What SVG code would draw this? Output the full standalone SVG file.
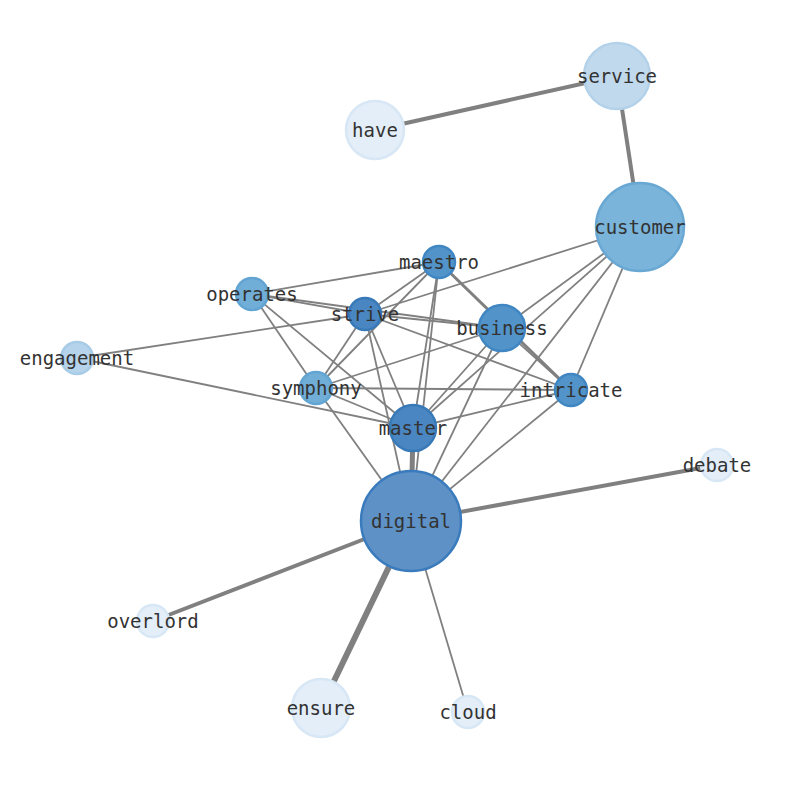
<svg xmlns="http://www.w3.org/2000/svg" width="794" height="790" viewBox="0 0 794 790">
<style>
.e{stroke:#808080;stroke-width:1.8;fill:none}
.t{stroke:#808080;stroke-width:4;fill:none}
.n circle{stroke-width:2.5}
text{font-family:"DejaVu Sans Mono",monospace;font-size:19px;fill:#333;text-anchor:middle;dominant-baseline:central}
</style>
<rect width="794" height="790" fill="#fff"/>
<g id="edges">
<line class="t" x1="375" y1="130" x2="617" y2="76"/>
<line class="t" x1="617" y1="76" x2="640" y2="227"/>
<line class="t" x1="411" y1="521" x2="717" y2="465"/>
<line class="t" x1="411" y1="521" x2="153" y2="621"/>
<line class="t" x1="411" y1="521" x2="321" y2="708" style="stroke-width:6"/>
<line class="t" x1="411" y1="521" x2="413" y2="428" style="stroke-width:5"/>
<line class="e" x1="411" y1="521" x2="468" y2="712"/>
<line class="e" x1="252" y1="294" x2="439" y2="262"/>
<line class="e" x1="252" y1="294" x2="365" y2="314"/>
<line class="e" x1="252" y1="294" x2="502" y2="328"/>
<line class="e" x1="252" y1="294" x2="316" y2="388"/>
<line class="e" x1="252" y1="294" x2="413" y2="428"/>
<line class="e" x1="640" y1="227" x2="365" y2="314"/>
<line class="e" x1="640" y1="227" x2="502" y2="328"/>
<line class="e" x1="640" y1="227" x2="413" y2="428"/>
<line class="e" x1="640" y1="227" x2="411" y2="521"/>
<line class="e" x1="640" y1="227" x2="571" y2="390"/>
<line class="e" x1="77" y1="358" x2="365" y2="314"/>
<line class="e" x1="77" y1="358" x2="413" y2="428"/>
<line class="e" x1="439" y1="262" x2="365" y2="314"/>
<line class="e" x1="439" y1="262" x2="316" y2="388"/>
<line class="e" x1="439" y1="262" x2="413" y2="428"/>
<line class="e" x1="439" y1="262" x2="411" y2="521"/>
<line class="e" x1="439" y1="262" x2="571" y2="390" style="stroke-width:3"/>
<line class="e" x1="365" y1="314" x2="502" y2="328"/>
<line class="e" x1="365" y1="314" x2="571" y2="390"/>
<line class="e" x1="365" y1="314" x2="316" y2="388"/>
<line class="e" x1="365" y1="314" x2="413" y2="428"/>
<line class="e" x1="365" y1="314" x2="411" y2="521"/>
<line class="e" x1="502" y1="328" x2="316" y2="388"/>
<line class="e" x1="502" y1="328" x2="413" y2="428"/>
<line class="e" x1="502" y1="328" x2="411" y2="521"/>
<line class="e" x1="502" y1="328" x2="571" y2="390"/>
<line class="e" x1="316" y1="388" x2="571" y2="390"/>
<line class="e" x1="316" y1="388" x2="413" y2="428"/>
<line class="e" x1="316" y1="388" x2="411" y2="521"/>
<line class="e" x1="571" y1="390" x2="413" y2="428"/>
<line class="e" x1="571" y1="390" x2="411" y2="521"/>
</g>
<g id="service" class="n"><circle cx="617" cy="76" r="33" fill="#c1d9ed" stroke="#b3d2ea"/><text x="617" y="76">service</text></g>
<g id="have" class="n"><circle cx="375" cy="130" r="29" fill="#e3eef8" stroke="#d8e7f5"/><text x="375" y="130">have</text></g>
<g id="customer" class="n"><circle cx="640" cy="227" r="44" fill="#7ab4da" stroke="#6aa8d4"/><text x="640" y="227">customer</text></g>
<g id="maestro" class="n"><circle cx="439" cy="262" r="16" fill="#5294c9" stroke="#3f86c2"/><text x="439" y="262">maestro</text></g>
<g id="operates" class="n"><circle cx="252" cy="294" r="16" fill="#70aed8" stroke="#62a4d2"/><text x="252" y="294">operates</text></g>
<g id="strive" class="n"><circle cx="365" cy="314" r="16" fill="#4a87c2" stroke="#3879b8"/><text x="365" y="314">strive</text></g>
<g id="business" class="n"><circle cx="502" cy="328" r="23" fill="#5294c9" stroke="#3f86c2"/><text x="502" y="328">business</text></g>
<g id="engagement" class="n"><circle cx="77" cy="358" r="16" fill="#b5d3eb" stroke="#a8cbe6"/><text x="77" y="358">engagement</text></g>
<g id="symphony" class="n"><circle cx="316" cy="388" r="16" fill="#70aed8" stroke="#62a4d2"/><text x="316" y="388">symphony</text></g>
<g id="intricate" class="n"><circle cx="571" cy="390" r="16" fill="#5294c9" stroke="#3f86c2"/><text x="571" y="390">intricate</text></g>
<g id="master" class="n"><circle cx="413" cy="428" r="23" fill="#4a87c2" stroke="#3879b8"/><text x="413" y="428">master</text></g>
<g id="digital" class="n"><circle cx="411" cy="521" r="50" fill="#5e91c6" stroke="#3a7bbd"/><text x="411" y="521">digital</text></g>
<g id="debate" class="n"><circle cx="717" cy="465" r="16" fill="#e3eef8" stroke="#d8e7f5"/><text x="717" y="465">debate</text></g>
<g id="overlord" class="n"><circle cx="153" cy="621" r="16" fill="#e3eef8" stroke="#d8e7f5"/><text x="153" y="621">overlord</text></g>
<g id="ensure" class="n"><circle cx="321" cy="708" r="29" fill="#e3eef8" stroke="#d8e7f5"/><text x="321" y="708">ensure</text></g>
<g id="cloud" class="n"><circle cx="468" cy="712" r="16" fill="#e3eef8" stroke="#d8e7f5"/><text x="468" y="712">cloud</text></g>
</svg>
